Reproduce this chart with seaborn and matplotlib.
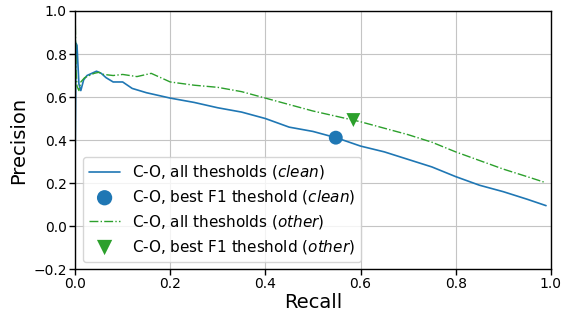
import numpy as np
import pandas as pd
import seaborn as sns
import matplotlib.pyplot as plt

# precision / recall
recall_clean = [0, 0.002, 0.004, 0.008, 0.012, 0.018, 0.025, 0.035, 0.045, 0.055, 0.065,
                0.08, 0.1, 0.12, 0.15, 0.2, 0.25, 0.3, 0.35, 0.4, 0.45, 0.5, 0.55, 0.6,
                0.65, 0.7, 0.75, 0.8, 0.85, 0.9, 0.95, 0.99]
precision_clean = [0.30, 0.85, 0.84, 0.66, 0.63, 0.68, 0.70, 0.71, 0.72, 0.71, 0.69,
                   0.67, 0.67, 0.64, 0.62, 0.595, 0.575, 0.55, 0.53, 0.50, 0.46, 0.44, 0.41, 0.372,
                   0.345, 0.31, 0.275, 0.23, 0.19, 0.16, 0.125, 0.095]

recall_other = [0, 0.002, 0.004, 0.008, 0.012, 0.02, 0.03, 0.04, 0.05, 0.06, 0.08, 0.1,
                0.13, 0.16, 0.2, 0.25, 0.3, 0.35, 0.4, 0.45, 0.5, 0.55, 0.6, 0.65, 0.7,
                0.75, 0.8, 0.85, 0.9, 0.95, 0.985]
precision_other = [1.0, 0.72, 0.65, 0.63, 0.67, 0.69, 0.70, 0.71, 0.715, 0.705, 0.70, 0.705,
                   0.695, 0.71, 0.67, 0.655, 0.645, 0.625, 0.595, 0.565, 0.535, 0.51, 0.485,
                   0.455, 0.425, 0.39, 0.345, 0.305, 0.265, 0.23, 0.205]

best_clean = (0.548, 0.411)
best_other = (0.585, 0.493)

sns.set_style("whitegrid", {"grid.color": "#c4c4c4", "axes.edgecolor": "black",
                            "xtick.bottom": True, "ytick.left": True,
                            "text.color": "black", "axes.labelcolor": "black",
                            "xtick.color": "black", "ytick.color": "black"})

fig, ax = plt.subplots(figsize=(5.69, 3.14), dpi=100)
fig.subplots_adjust(left=0.132, right=0.968, top=0.965, bottom=0.143)

df_clean = pd.DataFrame({"recall": recall_clean, "precision": precision_clean})
df_other = pd.DataFrame({"recall": recall_other, "precision": precision_other})

sns.lineplot(data=df_clean, x="recall", y="precision", sort=False, estimator=None,
             color="#1f77b4", linewidth=1.2, ax=ax,
             label=r"C-O, all thesholds ($\it{clean}$)")
sns.scatterplot(x=[best_clean[0]], y=[best_clean[1]], marker="o", s=100, color="#1f77b4",
                edgecolor="none", ax=ax, zorder=5,
                label=r"C-O, best F1 theshold ($\it{clean}$)")
sns.lineplot(data=df_other, x="recall", y="precision", sort=False, estimator=None,
             color="#2ca02c", linewidth=1.0, linestyle="-.", ax=ax,
             label=r"C-O, all thesholds ($\it{other}$)")
sns.scatterplot(x=[best_other[0]], y=[best_other[1]], marker="v", s=100, color="#2ca02c",
                edgecolor="none", ax=ax, zorder=5,
                label=r"C-O, best F1 theshold ($\it{other}$)")

ax.set_xlim(0, 1)
ax.set_ylim(-0.2, 1.0)
ax.set_xticks(np.arange(0, 1.01, 0.2))
ax.set_yticks(np.arange(-0.2, 1.01, 0.2))
ax.set_xlabel("Recall", fontsize=14, labelpad=1)
ax.set_ylabel("Precision", fontsize=14)
ax.tick_params(axis="both", labelsize=10, direction="out", length=4, width=1, color="black",
               labelcolor="black", pad=2)
for s in ax.spines.values():
    s.set_color("black")
    s.set_linewidth(1)

ax.legend(loc="lower left", bbox_to_anchor=(0.017, 0.027), borderaxespad=0, fontsize=11,
          frameon=True, framealpha=0.8, edgecolor="#cccccc", borderpad=0.4,
          labelspacing=0.45, markerscale=1.1)

fig.savefig("out.png", dpi=100)
